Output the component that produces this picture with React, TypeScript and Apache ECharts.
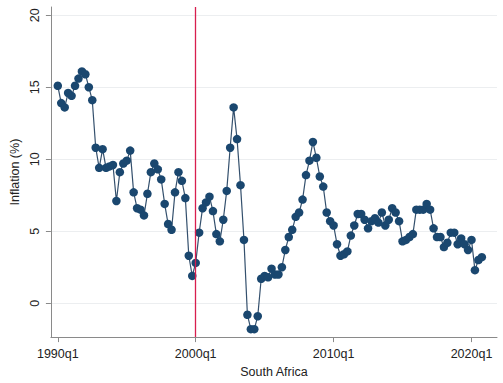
import { useEffect, useRef } from "react";
import * as echarts from "echarts";

// Quarterly CPI inflation, South Africa, 1990q1 – 2020q4 (percent)
const START_YEAR = 1990;
const inflation: number[] = [
  15.1, 13.9, 13.6, 14.6, 14.4, 15.1, 15.6, 16.1, 15.9, 15.0,
  14.1, 10.8, 9.4, 10.7, 9.4, 9.5, 9.6, 7.1, 9.1, 9.7,
  9.9, 10.6, 7.7, 6.6, 6.5, 6.1, 7.6, 9.1, 9.7, 9.3,
  8.6, 6.9, 5.5, 5.1, 7.7, 9.1, 8.5, 7.3, 3.3, 1.9,
  2.8, 4.9, 6.6, 7.0, 7.4, 6.4, 4.8, 4.3, 5.8, 7.8,
  10.8, 13.6, 11.4, 8.2, 4.4, -0.8, -1.8, -1.8, -0.9, 1.7,
  1.9, 1.8, 2.4, 2.0, 2.0, 2.5, 3.7, 4.6, 5.1, 6.0,
  6.3, 7.2, 8.9, 9.9, 11.2, 10.1, 8.8, 8.1, 6.3, 5.7,
  5.4, 4.1, 3.3, 3.4, 3.6, 4.7, 5.4, 6.2, 6.2, 5.8,
  5.2, 5.7, 5.9, 5.6, 6.3, 5.4, 5.8, 6.6, 6.3, 5.7,
  4.3, 4.4, 4.6, 4.8, 6.5, 6.5, 6.5, 6.9, 6.5, 5.2,
  4.6, 4.6, 3.9, 4.2, 4.9, 4.9, 4.1, 4.5, 4.1, 3.7,
  4.4, 2.3, 3.0, 3.2,
];

const quarters: string[] = inflation.map(
  (_, i) => `${START_YEAR + Math.floor(i / 4)}q${(i % 4) + 1}`
);

const xTickLabels = ["1990q1", "2000q1", "2010q1", "2020q1"];
const yTickValues = [0, 5, 10, 15, 20];
const breakQuarter = "2000q1";

const NAVY = "#1a476f";
const FONT = "'Liberation Sans', Arial, sans-serif";
const TEXT = "#222";
const AXIS = "#8a8a8a";

export default function App() {
  const ref = useRef<HTMLDivElement>(null);

  useEffect(() => {
    if (!ref.current) return;
    document.body.style.margin = "0";
    const chart = echarts.init(ref.current, undefined, { renderer: "svg" });
    const xTicks = xTickLabels.map((q) => quarters.indexOf(q));

    chart.setOption({
      animation: false,
      backgroundColor: "#ffffff",
      textStyle: { fontFamily: FONT },
      grid: { left: 48, right: 6, top: 7, bottom: 45 },
      xAxis: {
        type: "value",
        min: -2,
        max: 127.4,
        name: "South Africa",
        nameLocation: "middle",
        nameGap: 23,
        nameTextStyle: { fontSize: 12.5, color: TEXT, fontFamily: FONT },
        axisLine: { show: true, onZero: false, lineStyle: { color: AXIS, width: 1 } },
        axisTick: {
          show: true,
          length: 5,
          customValues: xTicks,
          lineStyle: { color: AXIS },
        },
        axisLabel: {
          customValues: xTicks,
          formatter: (v: number) => quarters[Math.round(v)] ?? "",
          fontSize: 12.5,
          color: TEXT,
          margin: 10,
          fontFamily: FONT,
        },
        splitLine: { show: false },
      },
      yAxis: {
        type: "value",
        min: -2.35,
        max: 20.57,
        name: "Inflation (%)",
        nameLocation: "middle",
        nameRotate: 90,
        nameGap: 20,
        nameTextStyle: { fontSize: 12.5, color: TEXT, fontFamily: FONT },
        axisLine: { show: true, onZero: false, lineStyle: { color: AXIS, width: 1 } },
        axisTick: {
          show: true,
          length: 5,
          customValues: yTickValues,
          lineStyle: { color: AXIS },
        },
        axisLabel: {
          customValues: yTickValues,
          rotate: 90,
          fontSize: 12.5,
          color: TEXT,
          margin: 9,
          fontFamily: FONT,
        },
        splitLine: { show: true, lineStyle: { color: "#eceef0", width: 1 } },
      },
      series: [
        {
          type: "line",
          data: inflation.map((v, i) => [i, v]),
          symbol: "circle",
          symbolSize: 8.5,
          showSymbol: true,
          itemStyle: { color: NAVY },
          lineStyle: { color: "#34506d", width: 1.2 },
          z: 3,
          markLine: {
            silent: true,
            symbol: "none",
            label: { show: false },
            lineStyle: { color: "#d81e4e", width: 1.3, type: "solid" },
            data: [{ xAxis: quarters.indexOf(breakQuarter) }],
          },
        },
      ],
    });

    return () => chart.dispose();
  }, []);

  return <div ref={ref} style={{ width: 503, height: 383 }} />;
}
